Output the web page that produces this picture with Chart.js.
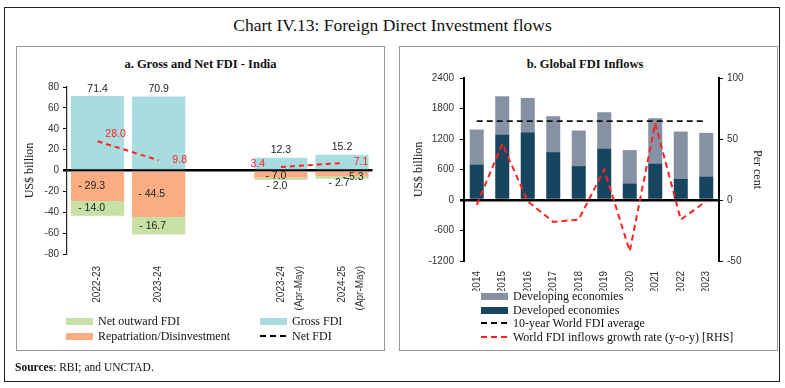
<!DOCTYPE html>
<html>
<head>
<meta charset="utf-8">
<script src="https://cdn.jsdelivr.net/npm/chart.js@4.4.1/dist/chart.umd.min.js"></script>
<style>
    body { margin: 0; width: 785px; height: 388px; background: #fff; position: relative; overflow: hidden; font-family: "Liberation Serif", serif; color: #111; }
    .abs { position: absolute; }
    #frame { left: 4px; top: 7px; width: 776px; height: 375px; border: 1.5px solid #222; box-sizing: border-box; }
    #main-title { left: 0; top: 15px; width: 785px; text-align: center; font-size: 17.5px; }
    .panel { border: 1.5px solid #999; box-sizing: border-box; }
    .panel-title { font-weight: bold; font-size: 12.5px; text-align: center; }
    .legend-item { font-size: 12px; line-height: 14px; white-space: nowrap; }
    .swatch { display: inline-block; width: 27px; height: 7px; vertical-align: middle; margin-right: 5px; position: relative; top: -1px; }
    .dash { display: inline-block; width: 27px; height: 2px; vertical-align: middle; margin-right: 5px; position: relative; top: -1px; }
    #sources { left: 15px; top: 361px; font-size: 11.5px; }
</style>
</head>
<body>
<div id="frame" class="abs"></div>
<div id="main-title" class="abs">Chart IV.13: Foreign Direct Investment flows</div>

<div class="abs panel" style="left:16px;top:46px;width:369px;height:305px;"></div>
<div class="abs panel" style="left:399px;top:46px;width:379px;height:305px;"></div>

<div class="abs panel-title" style="left:16px;top:57px;width:369px;">a. Gross and Net FDI - India</div>
<div class="abs panel-title" style="left:399px;top:57px;width:372px;">b. Global FDI Inflows</div>

<canvas id="indiaChart" class="abs" style="left:17px;top:47px;" width="366" height="270"></canvas>
<canvas id="globalChart" class="abs" style="left:400px;top:47px;" width="376" height="244"></canvas>

<div class="abs legend-item" style="left:66px;top:314px;"><span class="swatch" style="background:#C6E0A6"></span>Net outward FDI</div>
<div class="abs legend-item" style="left:66px;top:329px;"><span class="swatch" style="background:#F9AD81"></span>Repatriation/Disinvestment</div>
<div class="abs legend-item" style="left:260px;top:314px;"><span class="swatch" style="background:#A8DCDF"></span>Gross FDI</div>
<div class="abs legend-item" style="left:260px;top:329px;"><span class="dash" style="background:repeating-linear-gradient(to right,#000 0 6px,transparent 6px 10px)"></span>Net FDI</div>

<div class="abs legend-item" style="left:481px;top:289px;"><span class="swatch" style="background:#8691A3"></span>Developing economies</div>
<div class="abs legend-item" style="left:481px;top:303px;"><span class="swatch" style="background:#17455F"></span>Developed economies</div>
<div class="abs legend-item" style="left:481px;top:316px;"><span class="dash" style="background:repeating-linear-gradient(to right,#000 0 6px,transparent 6px 10px)"></span>10-year World FDI average</div>
<div class="abs legend-item" style="left:481px;top:330px;"><span class="dash" style="background:repeating-linear-gradient(to right,#f22 0 6px,transparent 6px 10px)"></span>World FDI inflows growth rate (y-o-y) [RHS]</div>

<div id="sources" class="abs"><b>Sources</b>: RBI; and UNCTAD.</div>

<script>
// panel a: India, US$ billion
const periods = ["2022-23", "2023-24", "", ["2023-24", "(Apr-May)"], ["2024-25", "(Apr-May)"]];
const grossFdi = [71.4, 70.9, null, 12.3, 15.2];
const repatriation = [-29.3, -44.5, null, -7.0, -5.3];
const netOutwardFdi = [-14.0, -16.7, null, -2.0, -2.7];
const netFdi = [28.0, 9.8, null, 3.4, 7.1];

// panel b: global, US$ billion and per cent
const years = ["2014", "2015", "2016", "2017", "2018", "2019", "2020", "2021", "2022", "2023"];
const developedEconomies = [700, 1288, 1334, 942, 667, 1014, 327, 719, 419, 464];
const developingEconomies = [686, 752, 674, 706, 700, 713, 654, 890, 928, 857];
const tenYearAverage = [1550, 1550, 1550, 1550, 1550, 1550, 1550, 1550, 1550, 1550];
const growthRate = [-4, 46, -1, -18, -16, 25, -42, 63, -16, -1];

Chart.defaults.font.family = "Liberation Sans";
Chart.defaults.color = "#333";
Chart.defaults.animation = false;

// label nudges [dx, dy], relative to bar top ("top"), bar middle ("mid") or point
const labelPlacement = {
    "Gross FDI": { anchor: "top", color: "#222", offsets: [[0, -7], [0, -7], null, [0, -8], [0, -8]] },
    "Repatriation/Disinvestment": { anchor: "mid", color: "#222", offsets: [[-6, 0], [-7, 0], null, [-5, 1], [11, 3]] },
    "Net outward FDI": { anchor: "mid", color: "#222", offsets: [[-6, 0], [-6, 0], null, [-4, 7], [-3, 6]] },
    "Net FDI": { anchor: "point", color: "#f22", offsets: [[18, -7], [21, 0], null, [-23, -3], [19, -1]] },
};

function formatValue(v) {
    return v < 0 ? "- " + Math.abs(v).toFixed(1) : v.toFixed(1);
}

const valueLabels = {
    id: "valueLabels",
    afterDatasetsDraw(chart) {
        const ctx = chart.ctx;
        ctx.save();
        ctx.font = "10.5px 'Liberation Sans'";
        ctx.textAlign = "center";
        ctx.textBaseline = "middle";
        chart.data.datasets.forEach((ds, i) => {
            const place = labelPlacement[ds.label];
            if (!place) return;
            chart.getDatasetMeta(i).data.forEach((el, j) => {
                const v = ds.data[j];
                const off = place.offsets[j];
                if (v == null || !off) return;
                let y = el.y;
                if (place.anchor === "mid") y = (el.y + el.base) / 2;
                ctx.fillStyle = place.color;
                ctx.fillText(formatValue(v), el.x + off[0], y + off[1]);
            });
        });
        ctx.restore();
    },
};

function zeroLineGrid(width) {
    return {
        color: (c) => (c.tick && c.tick.value === 0 ? "#000" : "rgba(0,0,0,0)"),
        lineWidth: (c) => (c.tick && c.tick.value === 0 ? width : 1),
        tickColor: "#000",
        tickLength: 4,
    };
}

new Chart(document.getElementById("indiaChart"), {
    type: "bar",
    data: {
        labels: periods,
        datasets: [
            { type: "line", label: "Net FDI", data: netFdi, borderColor: "#f22", borderWidth: 2, borderDash: [5, 4], pointRadius: 0, spanGaps: false, stack: "net", order: 0 },
            { label: "Gross FDI", data: grossFdi, backgroundColor: "#A8DCDF", stack: "fdi", order: 1 },
            { label: "Repatriation/Disinvestment", data: repatriation, backgroundColor: "#F9AD81", stack: "fdi", order: 1 },
            { label: "Net outward FDI", data: netOutwardFdi, backgroundColor: "#C6E0A6", stack: "fdi", order: 1 },
        ],
    },
    options: {
        responsive: false,
        layout: { padding: { top: 40, right: 10, left: 0, bottom: 0 } },
        datasets: { bar: { barPercentage: 0.87, categoryPercentage: 1 } },
        plugins: { legend: { display: false }, tooltip: { enabled: false } },
        scales: {
            x: {
                stacked: true,
                grid: { display: false },
                border: { display: false },
                ticks: { maxRotation: 90, minRotation: 90, padding: 4, color: "#333", font: { size: 10, lineHeight: 1.8 } },
                afterFit: (s) => { s.height = 63; },
            },
            y: {
                stacked: true,
                min: -80,
                max: 80,
                ticks: { stepSize: 20, padding: 4, font: { size: 10 } },
                grid: zeroLineGrid(2.5),
                border: { display: true, color: "#222", width: 1.2 },
                title: { display: true, text: "US$ billion", color: "#222", font: { family: "Liberation Serif", size: 12 }, padding: { top: 6, bottom: 0 } },
                afterFit: (s) => { s.width = 50; },
            },
        },
    },
    plugins: [valueLabels],
});

new Chart(document.getElementById("globalChart"), {
    type: "bar",
    data: {
        labels: years,
        datasets: [
            { type: "line", label: "World FDI inflows growth rate (y-o-y) [RHS]", data: growthRate, yAxisID: "y1", borderColor: "#f22", borderWidth: 2, borderDash: [6, 4], pointRadius: 0, order: 0 },
            { type: "line", label: "10-year World FDI average", data: tenYearAverage, borderColor: "#111", borderWidth: 1.8, borderDash: [6, 4], pointRadius: 0, stack: "avg", order: 0 },
            { label: "Developed economies", data: developedEconomies, backgroundColor: "#17455F", stack: "fdi", order: 1 },
            { label: "Developing economies", data: developingEconomies, backgroundColor: "#8691A3", stack: "fdi", order: 1 },
        ],
    },
    options: {
        responsive: false,
        layout: { padding: { top: 31, right: 0, left: 0, bottom: 0 } },
        datasets: { bar: { barPercentage: 0.55, categoryPercentage: 1 } },
        plugins: { legend: { display: false }, tooltip: { enabled: false } },
        scales: {
            x: {
                stacked: true,
                grid: { display: false },
                border: { display: false },
                ticks: { maxRotation: 90, minRotation: 90, padding: 2, color: "#333", font: { size: 10 } },
                afterFit: (s) => { s.height = 30; },
            },
            y: {
                stacked: true,
                min: -1200,
                max: 2400,
                ticks: { stepSize: 600, padding: 6, font: { size: 10 }, callback: (v) => String(v) },
                grid: zeroLineGrid(2.5),
                border: { display: true, color: "#000", width: 2 },
                title: { display: true, text: "US$ billion", color: "#222", font: { family: "Liberation Serif", size: 12 }, padding: { top: 12, bottom: 0 } },
                afterFit: (s) => { s.width = 64; },
            },
            y1: {
                position: "right",
                min: -50,
                max: 100,
                ticks: { stepSize: 50, padding: 4, font: { size: 10 }, callback: (v) => String(v) },
                grid: { drawOnChartArea: false, tickColor: "#000", tickLength: 4 },
                border: { display: true, color: "#000", width: 2 },
                title: { display: true, text: "Per cent", color: "#222", font: { family: "Liberation Serif", size: 12 }, padding: { top: 12, bottom: 0 } },
                afterFit: (s) => { s.width = 57; },
            },
        },
    },
});
</script>
</body>
</html>
